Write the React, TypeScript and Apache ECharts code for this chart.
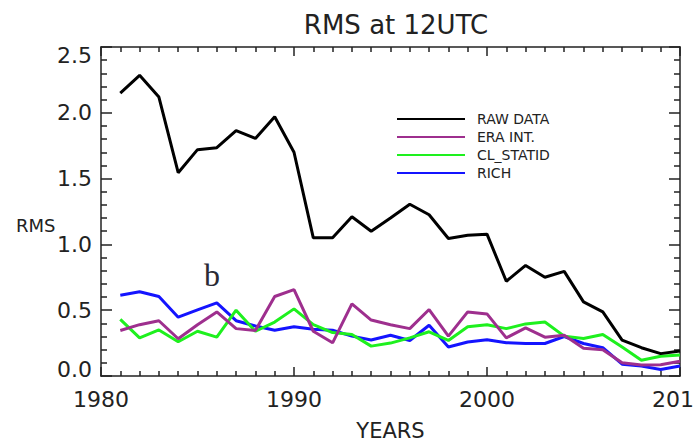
import React, { useEffect, useRef } from "react";
import * as echarts from "echarts";

const years = [1981, 1982, 1983, 1984, 1985, 1986, 1987, 1988, 1989, 1990, 1991, 1992, 1993, 1994, 1995, 1996, 1997, 1998, 1999, 2000, 2001, 2002, 2003, 2004, 2005, 2006, 2007, 2008, 2009, 2010];
const rawData = [2.15, 2.285, 2.12, 1.545, 1.72, 1.735, 1.865, 1.805, 1.97, 1.7, 1.05, 1.05, 1.21, 1.1, 1.2, 1.305, 1.225, 1.045, 1.07, 1.078, 0.72, 0.84, 0.75, 0.795, 0.563, 0.487, 0.273, 0.215, 0.17, 0.19];
const eraInt = [0.346, 0.39, 0.42, 0.283, 0.39, 0.487, 0.36, 0.346, 0.604, 0.656, 0.34, 0.252, 0.548, 0.425, 0.39, 0.36, 0.505, 0.303, 0.487, 0.472, 0.29, 0.366, 0.295, 0.31, 0.21, 0.2, 0.1, 0.083, 0.085, 0.112];
const clStatid = [0.43, 0.29, 0.35, 0.26, 0.34, 0.295, 0.5, 0.34, 0.41, 0.51, 0.39, 0.33, 0.315, 0.227, 0.25, 0.29, 0.336, 0.27, 0.374, 0.39, 0.36, 0.396, 0.41, 0.303, 0.285, 0.315, 0.22, 0.12, 0.15, 0.16];
const rich = [0.614, 0.64, 0.604, 0.447, 0.502, 0.555, 0.42, 0.38, 0.348, 0.374, 0.356, 0.348, 0.303, 0.274, 0.31, 0.27, 0.386, 0.22, 0.258, 0.275, 0.253, 0.247, 0.247, 0.3, 0.247, 0.215, 0.09, 0.075, 0.05, 0.076];

const seriesNames = ["RAW DATA", "ERA INT.", "CL_STATID", "RICH"];
const seriesColors = ["#000000", "#9e2f8e", "#1ef01e", "#1414ff"];
const seriesValues = [rawData, eraInt, clStatid, rich];

const FONT = "DejaVu Sans";
const AXIS_COLOR = "#222222";
const TEXT_COLOR = "#222222";

export default function App() {
  const ref = useRef<HTMLDivElement>(null);
  useEffect(() => {
    if (!ref.current) return;
    const chart = echarts.init(ref.current, null, { renderer: "svg" });
    const labelRich = {
      n: { fontSize: 22, fontFamily: FONT, color: TEXT_COLOR },
      t: { fontSize: 22, fontFamily: FONT, color: TEXT_COLOR, padding: [16, 0, 0, 0] },
      b: { fontSize: 22, fontFamily: FONT, color: TEXT_COLOR, padding: [0, 0, 14, 0] },
    };
    const xBase = {
      type: "value",
      min: 1980,
      max: 2010,
      interval: 10,
      splitLine: { show: false },
      axisLine: { show: true, onZero: false, lineStyle: { color: AXIS_COLOR, width: 1.5 } },
      axisTick: { show: true, inside: true, length: 9, lineStyle: { color: AXIS_COLOR, width: 1.5 } },
      minorTick: { show: true, splitNumber: 10, length: 5, lineStyle: { color: AXIS_COLOR, width: 1.5 } },
      minorSplitLine: { show: false },
    };
    const yBase = {
      type: "value",
      min: 0,
      max: 2.5,
      interval: 0.5,
      splitLine: { show: false },
      axisLine: { show: true, onZero: false, lineStyle: { color: AXIS_COLOR, width: 1.5 } },
      axisTick: { show: true, inside: true, length: 11, lineStyle: { color: AXIS_COLOR, width: 1.5 } },
      minorTick: { show: true, splitNumber: 5, length: 6, lineStyle: { color: AXIS_COLOR, width: 1.5 } },
      minorSplitLine: { show: false },
    };
    chart.setOption({
      animation: false,
      backgroundColor: "#ffffff",
      title: {
        text: "RMS at 12UTC",
        left: 391,
        textAlign: "center",
        top: 7,
        textStyle: { fontFamily: FONT, fontSize: 26, fontWeight: "normal", color: TEXT_COLOR },
      },
      grid: { left: 101, right: 13, top: 47, bottom: 69, containLabel: false, outerBoundsMode: "none" },
      legend: {
        data: seriesNames,
        orient: "vertical",
        left: 392,
        top: 107,
        icon: "rect",
        itemWidth: 68,
        itemHeight: 2,
        itemGap: 4,
        formatter: (name: string) => "{a|" + name + "}",
        textStyle: {
          fontFamily: FONT,
          fontSize: 14,
          color: TEXT_COLOR,
          rich: { a: { fontFamily: FONT, fontSize: 14, color: TEXT_COLOR, padding: [0, 0, 0, 7] } },
        },
      },
      xAxis: [
        {
          ...xBase,
          position: "bottom",
          name: "YEARS",
          nameLocation: "middle",
          nameGap: 44,
          nameTextStyle: { fontFamily: FONT, fontSize: 21, color: TEXT_COLOR },
          axisLabel: {
            show: true,
            margin: 12,
            fontFamily: FONT,
            fontSize: 22,
            color: TEXT_COLOR,
            formatter: (v: number) => String(Math.round(v)),
          },
        },
        { ...xBase, position: "top", axisLabel: { show: false } },
      ],
      yAxis: [
        {
          ...yBase,
          position: "left",
          axisLabel: {
            show: true,
            margin: 9,
            formatter: (v: number) => {
              const s = v.toFixed(1);
              if (v >= 2.5) return "{t|" + s + "}";
              if (v <= 0) return "{b|" + s + "}";
              return "{n|" + s + "}";
            },
            rich: labelRich,
          },
        },
        { ...yBase, position: "right", axisLabel: { show: false } },
      ],
      graphic: [
        {
          type: "text",
          left: 16,
          top: 216,
          style: { text: "RMS", fontFamily: FONT, fontSize: 18, fill: TEXT_COLOR },
        },
        {
          type: "text",
          left: 204,
          top: 259,
          style: { text: "b", fontFamily: "Liberation Serif", fontSize: 32, fill: "#2a2a35" },
        },
      ],
      series: seriesNames.map((name, i) => ({
        name,
        type: "line",
        xAxisIndex: 0,
        yAxisIndex: 0,
        showSymbol: false,
        symbol: "none",
        color: seriesColors[i],
        lineStyle: { color: seriesColors[i], width: 3 },
        data: years.map((y, j) => [y, seriesValues[i][j]]),
        z: 10 - i,
      })),
    });
    return () => chart.dispose();
  }, []);
  return (
    <div
      ref={ref}
      style={{ position: "fixed", left: 0, top: 0, width: 693, height: 445 }}
    />
  );
}
